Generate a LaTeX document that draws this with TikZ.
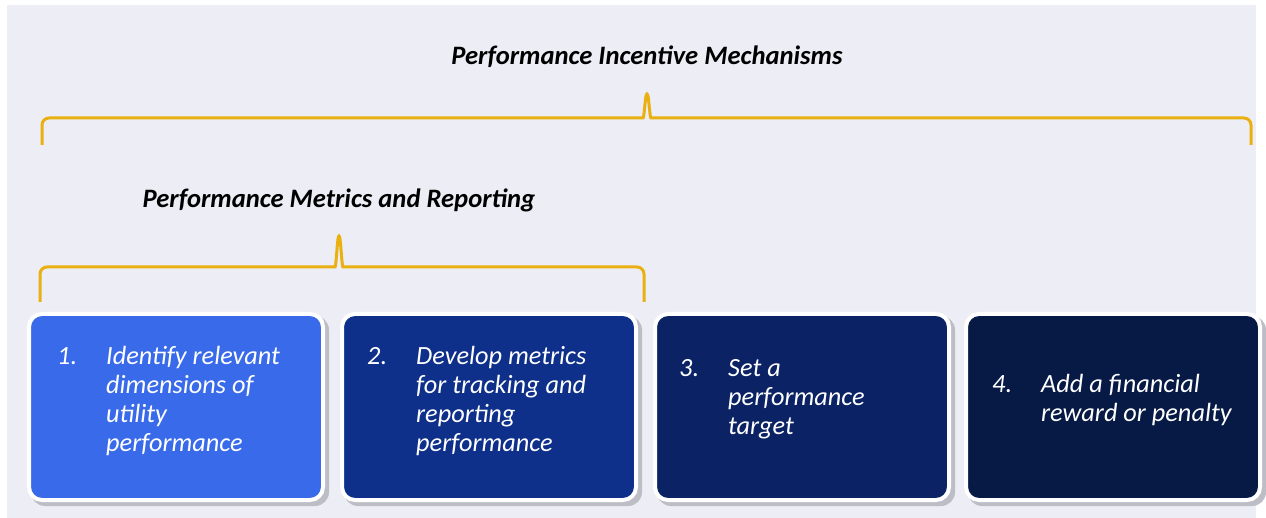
\documentclass[tikz,border=0pt]{standalone}
\usepackage{fontspec}
\usepackage{array}
\setmainfont{Carlito}
\definecolor{panelbg}{HTML}{EDEDF5}
\definecolor{bracecol}{HTML}{EAB010}
\definecolor{shadowcol}{HTML}{BDBDC6}
\definecolor{boxA}{HTML}{386AE9}
\definecolor{boxB}{HTML}{0E2F8A}
\definecolor{boxC}{HTML}{0B2364}
\definecolor{boxD}{HTML}{071945}
\newcommand{\steplist}[2]{\begin{tabular}{@{}p{49pt}@{}l@{}}#1 & #2\end{tabular}}
\tikzset{
  x=1pt, y=-1pt,
  stepbox/.style={draw=white, line width=4pt, rounded corners=13pt, minimum width=294pt, minimum height=186pt, inner sep=0pt},
  shadowbox/.style={fill=shadowcol, rounded corners=14pt, minimum width=298pt, minimum height=190pt, inner sep=0pt},
  bodytext/.style={text=white, font=\itshape\fontsize{26.3}{29}\selectfont, inner sep=0pt, anchor=west},
  titletext/.style={font=\bfseries\itshape\fontsize{26.6}{30}\selectfont, inner sep=0pt},
  bracket/.style={draw=bracecol, line width=3pt, rounded corners=7pt},
}
\begin{document}
\begin{tikzpicture}
\useasboundingbox (0,0) rectangle (1266,518);
\fill[panelbg] (7,5) rectangle (1256,518);
% titles
\node[titletext] (t1) at (647,57) {Performance Incentive Mechanisms};
\node[titletext] (t2) at (339,200) {Performance Metrics and Reporting};
% braces
\draw[bracket] (42,145) -- (42,118) -- (636,118) .. controls (644,118) and (645,102) .. (647,90)
  .. controls (649,102) and (650,118) .. (658,118) -- (1251,118) -- (1251,145);
\draw[bracket] (40,302) -- (40,267) -- (328,267) .. controls (336,267) and (337,246) .. (339,232)
  .. controls (341,246) and (342,267) .. (350,267) -- (644,267) -- (644,302);
% shadows
\foreach \cx in {176,489,802,1113} {
  \node[shadowbox] at (\cx+4,407+4) {};
}
% boxes
\node[stepbox, fill=boxA] (b1) at (176,407) {};
\node[stepbox, fill=boxB] (b2) at (489,407) {};
\node[stepbox, fill=boxC] (b3) at (802,407) {};
\node[stepbox, fill=boxD] (b4) at (1113,407) {};
% texts
\node[bodytext] (s1) at ([xshift=30pt, yshift=5pt]b1.west) {\steplist{1.}{Identify relevant\\ & dimensions of\\ & utility\\ & performance}};
\node[bodytext] (s2) at ([xshift=27pt, yshift=5pt]b2.west) {\steplist{2.}{Develop metrics\\ & for tracking and\\ & reporting\\ & performance}};
\node[bodytext] (s3) at ([xshift=26pt, yshift=7pt]b3.west) {\steplist{3.}{Set a\\ & performance\\ & target}};
\node[bodytext] (s4) at ([xshift=28pt, yshift=6pt]b4.west) {\steplist{4.}{Add a financial\\ & reward or penalty}};
\end{tikzpicture}
\end{document}
